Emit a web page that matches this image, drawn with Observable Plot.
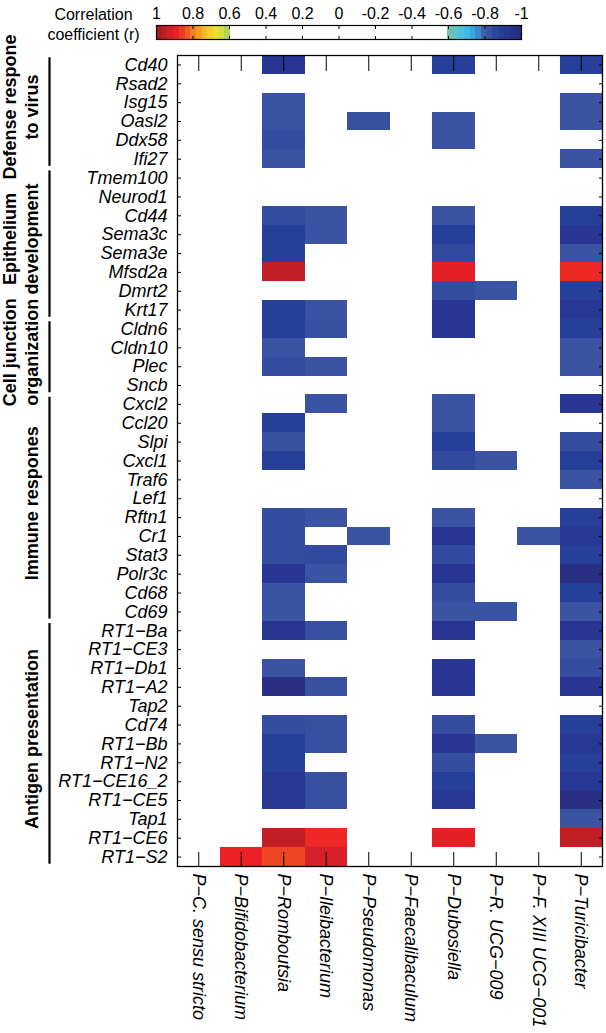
<!DOCTYPE html>
<html>
<head>
<meta charset="utf-8">
<script src="https://cdn.jsdelivr.net/npm/d3@7"></script>
<script src="https://cdn.jsdelivr.net/npm/@observablehq/plot@0.6"></script>
<style>
  html, body { margin: 0; padding: 0; background: #fff; }
  svg { display: block; }
</style>
</head>
<body>
<div id="chart"></div>
<script>
const _ = null;

// Rows (genes), top to bottom
const genes = ["Cd40","Rsad2","Isg15","Oasl2","Ddx58","Ifi27",
  "Tmem100","Neurod1","Cd44","Sema3c","Sema3e","Mfsd2a","Dmrt2","Krt17",
  "Cldn6","Cldn10","Plec","Sncb",
  "Cxcl2","Ccl20","Slpi","Cxcl1","Traf6","Lef1","Rftn1","Cr1","Stat3","Polr3c","Cd68","Cd69",
  "RT1−Ba","RT1−CE3","RT1−Db1","RT1−A2","Tap2","Cd74","RT1−Bb","RT1−N2","RT1−CE16_2","RT1−CE5","Tap1","RT1−CE6","RT1−S2"];

// Columns (bacteria), left to right
const bacteria = ["P−C. sensu stricto","P−Bifidobacterium","P−Romboutsia","P−Ileibacterium","P−Pseudomonas",
  "P−Faecalibaculum","P−Dubosiella","P−R. UCG−009","P−F. XIII UCG−001","P−Turicibacter"];

// Gene groups
const groupLine1 = ["Defense respone","Epithelium","Cell junction","",""];
const groupLine2 = ["to virus","development","organization","Immune respones","Antigen presentation"];
const groupFirst = [0, 6, 14, 18, 30];
const groupLast  = [5, 13, 17, 29, 42];

// Correlation coefficients per bacterium (null = not significant / blank)
const cSensuStricto = [
  _,_,_,_,_,_,_,_,_,_,
  _,_,_,_,_,_,_,_,_,_,
  _,_,_,_,_,_,_,_,_,_,
  _,_,_,_,_,_,_,_,_,_,
  _,_,_];
const bifidobacterium = [
  _,_,_,_,_,_,_,_,_,_,
  _,_,_,_,_,_,_,_,_,_,
  _,_,_,_,_,_,_,_,_,_,
  _,_,_,_,_,_,_,_,_,_,
  _,_,0.89];
const romboutsia = [
  -0.93,_,-0.82,-0.82,-0.84,-0.82,_,_,-0.84,-0.88,
  -0.88,0.95,_,-0.88,-0.88,-0.82,-0.84,_,_,-0.88,
  -0.83,-0.88,_,_,-0.84,-0.84,-0.84,-0.93,-0.82,-0.82,
  -0.93,_,-0.82,-0.97,_,-0.84,-0.88,-0.88,-0.92,-0.92,
  _,0.95,0.85];
const ileibacterium = [
  _,_,_,_,_,_,_,_,-0.82,-0.82,
  _,_,_,-0.82,-0.83,_,-0.82,_,-0.82,_,
  _,_,_,_,-0.82,_,-0.85,-0.82,_,_,
  -0.83,_,_,-0.83,_,-0.83,-0.83,_,-0.83,-0.83,
  _,0.88,0.92];
const pseudomonas = [
  _,_,_,-0.83,_,_,_,_,_,_,
  _,_,_,_,_,_,_,_,_,_,
  _,_,_,_,_,-0.82,_,_,_,_,
  _,_,_,_,_,_,_,_,_,_,
  _,_,_];
const faecalibaculum = [
  _,_,_,_,_,_,_,_,_,_,
  _,_,_,_,_,_,_,_,_,_,
  _,_,_,_,_,_,_,_,_,_,
  _,_,_,_,_,_,_,_,_,_,
  _,_,_];
const dubosiella = [
  -0.88,_,_,-0.82,-0.82,_,_,_,-0.82,-0.88,
  -0.85,0.9,-0.84,-0.93,-0.93,_,_,_,-0.82,-0.82,
  -0.88,-0.85,_,_,-0.82,-0.93,-0.85,-0.93,-0.84,-0.82,
  -0.93,_,-0.93,-0.93,_,-0.84,-0.93,-0.84,-0.88,-0.92,
  _,0.9,_];
const rUCG009 = [
  _,_,_,_,_,_,_,_,_,_,
  _,_,-0.82,_,_,_,_,_,_,_,
  _,-0.82,_,_,_,_,_,_,_,-0.82,
  _,_,_,_,_,_,-0.82,_,_,_,
  _,_,_];
const fXIIIUCG001 = [
  _,_,_,_,_,_,_,_,_,_,
  _,_,_,_,_,_,_,_,_,_,
  _,_,_,_,_,-0.82,_,_,_,_,
  _,_,_,_,_,_,_,_,_,_,
  _,_,_];
const turicibacter = [
  -0.88,_,-0.82,-0.82,_,-0.82,_,_,-0.88,-0.93,
  -0.82,0.88,-0.88,-0.92,-0.88,-0.82,-0.82,_,-0.93,_,
  -0.84,-0.88,-0.82,_,-0.88,-0.92,-0.88,-0.97,-0.88,-0.82,
  -0.93,-0.82,-0.84,-0.93,_,-0.88,-0.92,-0.88,-0.92,-0.97,
  -0.82,0.95,_];

const columns = [cSensuStricto, bifidobacterium, romboutsia, ileibacterium, pseudomonas,
  faecalibaculum, dubosiella, rUCG009, fXIIIUCG001, turicibacter];

// Colour bar ticks and colour map (jet-like with white centre)
const cbTicks = [1, 0.8, 0.6, 0.4, 0.2, 0, -0.2, -0.4, -0.6, -0.8, -1];
const rDomain = [-1, -0.93, -0.88, -0.83, -0.8, -0.77, -0.72, -0.66, -0.6, -0.5999,
  0.5999, 0.6, 0.66, 0.72, 0.78, 0.83, 0.86, 0.89, 0.93, 0.96, 1];
const rColors = ["#2a2c7a","#283592","#26409a","#3850a0","#3d5ca9","#3b86cc","#2fb6ea","#56c5d6","#70c4a6","#ffffff",
  "#ffffff","#a8cf5a","#e6e62e","#fbc521","#f69220","#f15a24","#ee3a24","#ec2027","#d01f27","#b91d24","#a01b20"];

// ---- build tables ----
const cells = [];
columns.forEach((vals, c) => vals.forEach((r, i) => { if (r != null) cells.push({c, i, r}); }));
const groups = groupLine2.map((l2, k) => ({line1: groupLine1[k], line2: l2, first: groupFirst[k], last: groupLast[k]}));
const yMids = genes.map((g, i) => i + 0.5);
const xMids = bacteria.map((b, j) => j + 0.5);
const rampSteps = d3.range(64).map(i => -1 + i / 32);

const font = '"Liberation Sans", Arial, Helvetica, sans-serif';
const colorScale = {type: "linear", domain: rDomain, range: rColors, interpolate: "rgb"};

// ---- colour bar legend ----
const legend = Plot.plot({
  width: 606, height: 44,
  marginLeft: 156, marginRight: 85, marginTop: 25, marginBottom: 5,
  style: {fontFamily: font, fontSize: "16px", background: "white", overflow: "visible"},
  x: {type: "linear", domain: [1, -1]},
  color: colorScale,
  marks: [
    Plot.rect(rampSteps, {x1: d => d, x2: d => d + 1/32, fill: d => d + 1/64, shapeRendering: "crispEdges"}),
    Plot.axisX({anchor: "top", ticks: cbTicks, tickSize: 0, tickPadding: 7, tickFormat: d => String(d), fontSize: 16, label: null}),
    Plot.axisX({anchor: "top", ticks: cbTicks.slice(1, -1), tickSize: -3, tickFormat: () => "", label: null}),
    Plot.axisX({anchor: "bottom", ticks: cbTicks.slice(1, -1), tickSize: -3, tickFormat: () => "", label: null}),
    Plot.frame({stroke: "black", strokeWidth: 1.2}),
    Plot.text(["Correlation\ncoefficient (r)"], {text: d => d, frameAnchor: "top-left", dx: -63, dy: -19,
      lineAnchor: "top", textAnchor: "middle", lineHeight: 1.22, fontSize: 16})
  ]
});

// ---- heatmap ----
const chart = Plot.plot({
  width: 606, height: 989,
  marginTop: 11, marginBottom: 167, marginLeft: 177, marginRight: 4,
  style: {fontFamily: font, fontSize: "18px", background: "white", overflow: "visible"},
  x: {type: "linear", domain: [0, bacteria.length]},
  y: {type: "linear", domain: [0, genes.length], reverse: true},
  color: colorScale,
  marks: [
    Plot.rect(cells, {x1: "c", x2: d => d.c + 1, y1: "i", y2: d => d.i + 1, fill: "r", shapeRendering: "crispEdges"}),
    Plot.frame({stroke: "black", strokeWidth: 1.3}),
    Plot.axisY({anchor: "left", ticks: yMids, tickFormat: t => genes[Math.floor(t)], tickSize: 0, tickPadding: 10,
      fontSize: 18, fontStyle: "italic", label: null}),
    Plot.axisY({anchor: "left", ticks: yMids, tickSize: -4, tickFormat: () => "", label: null}),
    Plot.axisY({anchor: "right", ticks: yMids, tickSize: -4, tickFormat: () => "", label: null}),
    Plot.axisX({anchor: "bottom", ticks: xMids, tickFormat: t => bacteria[Math.floor(t)], tickRotate: 90,
      textAnchor: "start", tickSize: 0, tickPadding: 7, fontSize: 18, fontStyle: "italic", label: null}),
    Plot.axisX({anchor: "bottom", ticks: xMids, tickSize: -14, tickFormat: () => "", label: null}),
    Plot.axisX({anchor: "top", ticks: xMids, tickSize: -15, tickFormat: () => "", label: null}),
    Plot.ruleX(groups, {x: 0, y1: d => d.first + 0.12, y2: d => d.last + 0.88, dx: -128, strokeWidth: 2.2, stroke: "black"}),
    Plot.text(groups, {x: 0, y: d => (d.first + d.last + 1) / 2, text: "line1", rotate: -90, dx: -167.5, dy: -5,
      fontWeight: "bold", fontSize: 18, fill: "black"}),
    Plot.text(groups, {x: 0, y: d => (d.first + d.last + 1) / 2, text: "line2", rotate: -90, dx: -145.5, dy: -5,
      fontWeight: "bold", fontSize: 18, fill: "black"})
  ]
});

const root = document.getElementById("chart");
root.appendChild(legend);
root.appendChild(chart);
</script>
</body>
</html>
